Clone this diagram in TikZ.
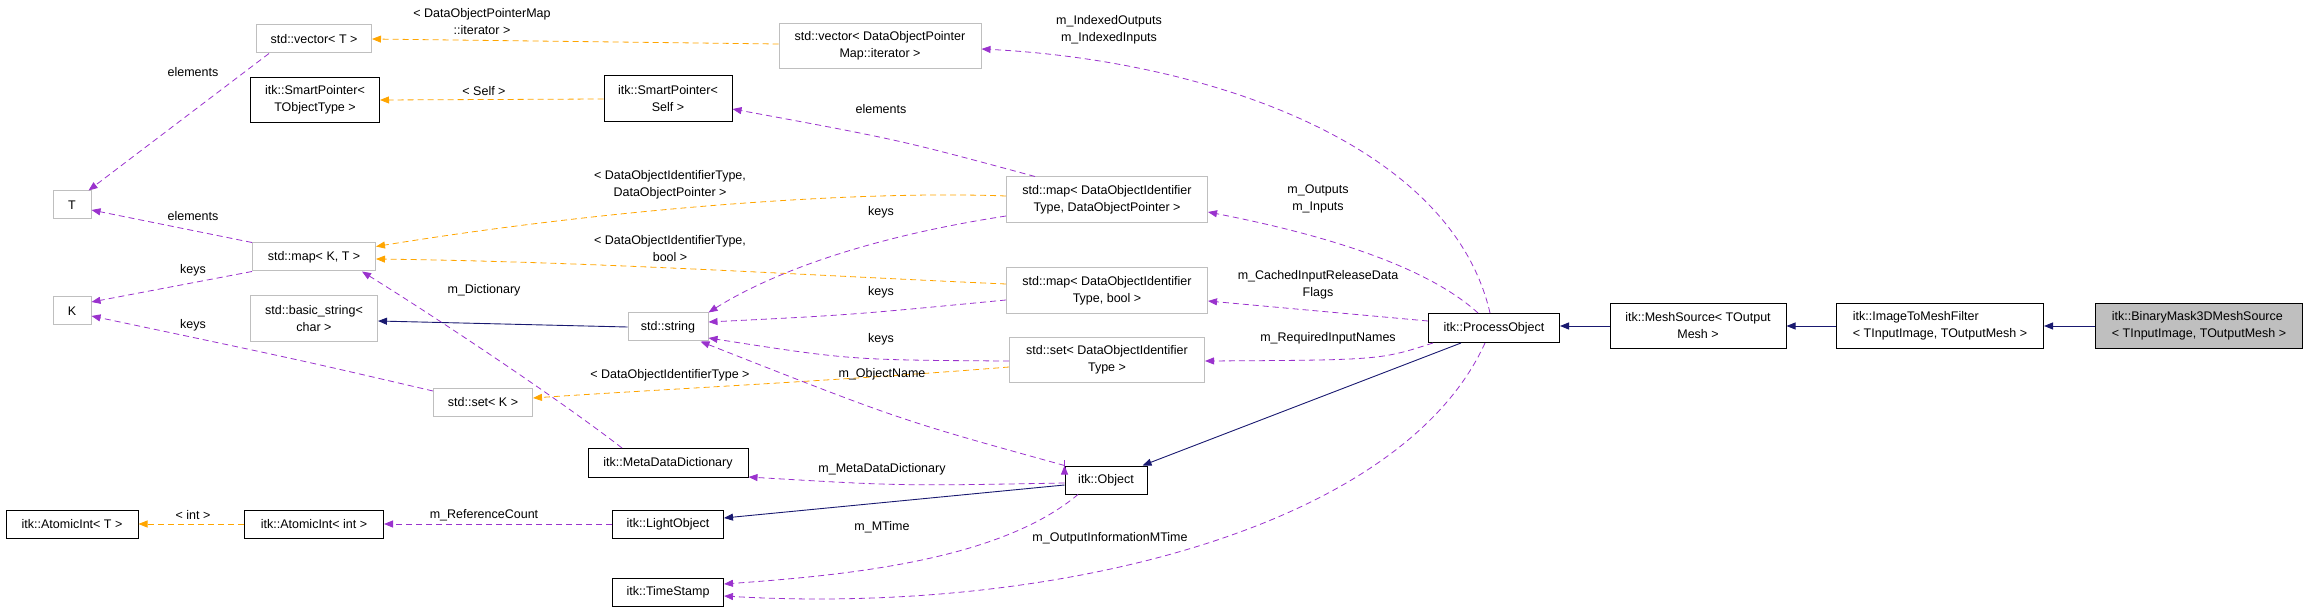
\documentclass[tikz,border=0pt]{standalone}
\usepackage{fontspec}
\setmainfont{Liberation Sans}
\usetikzlibrary{arrows.meta,calc}
\definecolor{pur}{HTML}{9A32CD}
\definecolor{org}{HTML}{FFA500}
\definecolor{nav}{HTML}{191970}
\definecolor{lg}{HTML}{BFBFBF}
\begin{document}
\begin{tikzpicture}[x=1pt,y=-1pt,
  every node/.style={font=\fontsize{12.5}{17}\selectfont,align=center,inner sep=0pt},
  cls/.style={draw=black,line width=1pt,fill=white},
  ext/.style={draw=lg,line width=1pt,fill=white},
  tip/.style={-{Triangle[length=9pt,width=7pt]}},
  usep/.style={tip,pur,dashed,dash pattern=on 6pt off 4pt,line width=0.8pt},
  tmpl/.style={tip,org,dashed,dash pattern=on 6pt off 4pt,line width=0.8pt},
  inh/.style={tip,nav,line width=0.9pt},
  lab/.style={}]
\useasboundingbox (0,0) rectangle (2309,609);
% nodes
\node[ext,minimum width=115,minimum height=28] (vecT) at (314,39) {std::vector\textless{} T \textgreater};
\node[cls,minimum width=129,minimum height=45] (spT) at (315,100) {itk::SmartPointer\textless\\TObjectType \textgreater};
\node[cls,minimum width=128,minimum height=46] (spS) at (668,99) {itk::SmartPointer\textless\\Self \textgreater};
\node[ext,minimum width=38,minimum height=28] (T) at (72,205) {T};
\node[ext,minimum width=123,minimum height=28] (mapKT) at (314,257) {std::map\textless{} K, T \textgreater};
\node[ext,minimum width=38,minimum height=28] (K) at (72,311) {K};
\node[ext,minimum width=127,minimum height=46] (bstr) at (314,319) {std::basic\_string\textless\\char \textgreater};
\node[ext,minimum width=80,minimum height=28] (str) at (668,327) {std::string};
\node[ext,minimum width=99,minimum height=28] (setK) at (483,402) {std::set\textless{} K \textgreater};
\node[cls,minimum width=160,minimum height=29] (mdd) at (668,463) {itk::MetaDataDictionary};
\node[cls,minimum width=132,minimum height=28] (aiT) at (72,524) {itk::AtomicInt\textless{} T \textgreater};
\node[cls,minimum width=139,minimum height=28] (aiI) at (314,524) {itk::AtomicInt\textless{} int \textgreater};
\node[cls,minimum width=111,minimum height=28] (lo) at (668,524) {itk::LightObject};
\node[cls,minimum width=111,minimum height=28] (ts) at (668,592) {itk::TimeStamp};
\node[ext,minimum width=202,minimum height=45] (vecD) at (880,46) {std::vector\textless{} DataObjectPointer\\Map::iterator \textgreater};
\node[ext,minimum width=201,minimum height=46] (mapP) at (1107,200) {std::map\textless{} DataObjectIdentifier\\Type, DataObjectPointer \textgreater};
\node[ext,minimum width=201,minimum height=46] (mapB) at (1107,291) {std::map\textless{} DataObjectIdentifier\\Type, bool \textgreater};
\node[ext,minimum width=195,minimum height=45] (setD) at (1107,360) {std::set\textless{} DataObjectIdentifier\\Type \textgreater};
\node[cls,minimum width=131,minimum height=29] (po) at (1494,328) {itk::ProcessObject};
\node[cls,minimum width=82,minimum height=28] (obj) at (1106,480) {itk::Object};
\node[cls,minimum width=176,minimum height=45] (ms) at (1698,326) {itk::MeshSource\textless{} TOutput\\Mesh \textgreater};
\node[cls,minimum width=207,minimum height=45,align=left] (itm) at (1940,326) {itk::ImageToMeshFilter\\\textless{} TInputImage, TOutputMesh \textgreater};
\node[cls,fill=lg,minimum width=207,minimum height=45,align=left] (bm) at (2199,326) {itk::BinaryMask3DMeshSource\\\textless{} TInputImage, TOutputMesh \textgreater};
% edges
\draw[usep] ($(vecT.south west)+(13,0)$) -- ($(T.north east)+(-3,0)$);
\node at (193,72) {elements};
\draw[usep] (mapKT.north west) -- ($(T.east)+(0,5)$);
\node at (193,216) {elements};
\draw[usep] (mapKT.south west) -- ($(K.east)+(0,-9)$);
\node at (193,270) {keys};
\draw[usep] ($(setK.west)+(0,-11)$) .. controls (300,360) .. ($(K.east)+(0,5)$);
\node at (193,325) {keys};
\draw[tmpl] ($(vecD.west)+(0,-2)$) -- (vecT.east);
\node at (482,22) {\textless{} DataObjectPointerMap\\::iterator \textgreater};
\draw[tmpl] (spS.west) -- (spT.east);
\node at (484,91) {\textless{} Self \textgreater};
\draw[tmpl] ($(mapP.west)+(0,-4)$) .. controls (850,190) and (600,210) .. ($(mapKT.north east)+(0,4)$);
\node at (670,185) {\textless{} DataObjectIdentifierType,\\DataObjectPointer \textgreater};
\draw[tmpl] ($(mapB.west)+(0,-7)$) .. controls (800,275) and (600,262) .. ($(mapKT.east)+(0,2)$);
\node at (670,249) {\textless{} DataObjectIdentifierType,\\bool \textgreater};
\draw[tmpl] ($(setD.west)+(0,7)$) .. controls (850,380) and (650,390) .. ($(setK.east)+(0,-4)$);
\node at (670,375) {\textless{} DataObjectIdentifierType \textgreater};
\draw[inh] (str.west) -- ($(bstr.east)+(0,2)$);
\draw[usep] ($(mapP.north west)+(29,0)$) .. controls (900,140) .. ($(spS.east)+(0,10)$);
\node at (881,109) {elements};
\draw[usep] ($(mapP.west)+(0,16)$) .. controls (850,240) and (760,280) .. (str.north east);
\node at (881,212) {keys};
\draw[usep] ($(mapB.west)+(0,9)$) .. controls (850,315) .. ($(str.east)+(0,-5)$);
\node at (881,292) {keys};
\draw[usep] ($(setD.west)+(0,1)$) .. controls (850,360) .. ($(str.east)+(0,11)$);
\node at (881,339) {keys};
\draw[usep] (obj.north west) .. controls (900,420) .. ($(str.south east)+(-8,0)$);
\node[fill=white,fill opacity=0,text opacity=1] at (882,374) {m\_ObjectName};
\draw[usep] (obj.north west) ++(0,0) -- ++(0,0);
\draw[usep] ($(mdd.north)+(-46,0)$) .. controls (560,400) and (440,320) .. ($(mapKT.south east)+(-14,0)$);
\node at (484,290) {m\_Dictionary};
\draw[usep] ($(obj.west)+(0,3)$) .. controls (900,486) .. ($(mdd.east)+(0,14)$);
\node at (882,469) {m\_MetaDataDictionary};
\draw[inh] ($(po.south)+(-33,0)$) -- ($(obj.north east)+(-5,0)$);
\draw[inh] ($(obj.west)+(0,5)$) -- ($(lo.east)+(0,-6)$);
\draw[usep] (lo.west) -- (aiI.east);
\node at (484,515) {m\_ReferenceCount};
\draw[tmpl] (aiI.west) -- (aiT.east);
\node at (193,515) {\textless{} int \textgreater};
\draw[usep] ($(obj.south)+(-28,0)$) .. controls (1000,560) and (850,575) .. ($(ts.east)+(0,-8)$);
\node at (882,527) {m\_MTime};
\draw[usep] ($(po.south)+(-9,0)$) .. controls (1400,530) and (1050,615) .. ($(ts.east)+(0,4)$);
\node at (1110,538) {m\_OutputInformationMTime};
\draw[usep] ($(po.north)+(-4,0)$) .. controls (1450,140) and (1200,60) .. ($(vecD.east)+(0,3)$);
\node at (1109,30) {m\_IndexedOutputs\\m\_IndexedInputs};
\draw[usep] ($(po.north)+(-16,0)$) .. controls (1420,260) and (1300,230) .. ($(mapP.east)+(0,12)$);
\node at (1318,199) {m\_Outputs\\m\_Inputs};
\draw[usep] ($(po.west)+(0,-7)$) -- ($(mapB.east)+(0,10)$);
\node at (1318,285) {m\_CachedInputReleaseData\\Flags};
\draw[usep] ($(po.south west)+(5,0)$) .. controls (1380,360) .. ($(setD.east)+(0,1)$);
\node at (1328,338) {m\_RequiredInputNames};
\draw[inh] (ms.west) -- ($(po.east)+(0,-2)$);
\draw[inh] (itm.west) -- (ms.east);
\draw[inh] (bm.west) -- (itm.east);
\end{tikzpicture}
\end{document}
